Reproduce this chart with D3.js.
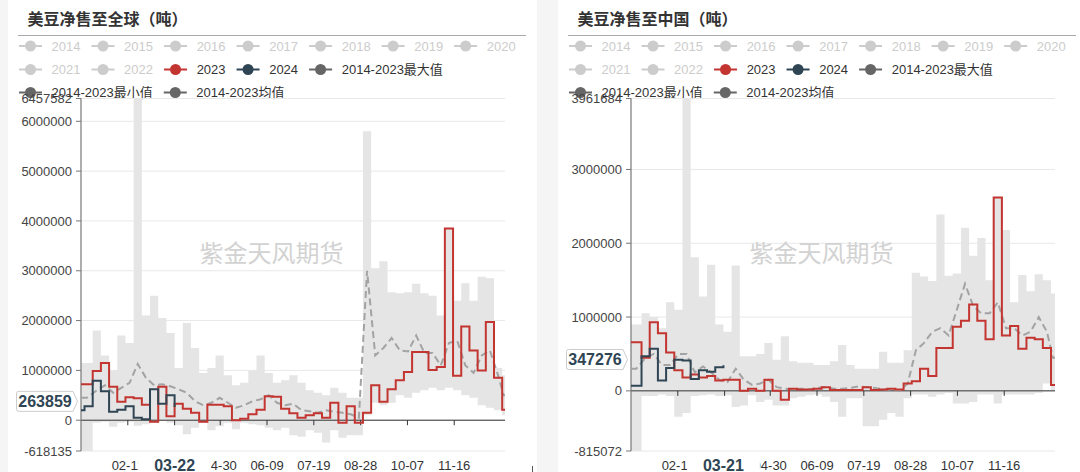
<!DOCTYPE html>
<html><head><meta charset="utf-8">
<script src="https://cdn.jsdelivr.net/npm/d3@7"></script>
<style>
html,body{margin:0;padding:0;background:#f5f5f5;}
svg{display:block;}
</style></head><body>
<svg id="c" width="1080" height="472"></svg>
<script>
// ---------------- DATA ----------------
const legendNames = ["2014","2015","2016","2017","2018","2019","2020","2021","2022","2023","2024","2014-2023最大值","2014-2023最小值","2014-2023均值"];
const legendActive = [false,false,false,false,false,false,false,false,false,true,true,true,true,true];
const xTickLabels = ["02-11","03-22","04-30","06-09","07-19","08-28","10-07","11-16"];
const yTicksGlobal = [-618135,0,1000000,2000000,3000000,4000000,5000000,6000000,6457582];
const yTicksChina = [-815072,0,1000000,2000000,3000000,3961684];

// weekly categories (first slot starts at first category of axis)
const fmt = d3.timeFormat("%m-%d");
const weeksGlobal = ["01-02"].concat(d3.range(1,52).map(k => fmt(d3.timeDay.offset(new Date(2024,0,5), 7*k))));
const weeksChina  = ["01-02"].concat(d3.range(1,52).map(k => fmt(d3.timeDay.offset(new Date(2024,0,4), 7*k))));

// 美豆净售至全球
const maxGlobal = [1150000,1800000,1300000,1000000,1700000,1550000,6457582,2100000,2500000,2050000,
  1750000,1050000,1950000,1450000,950000,1050000,1300000,900000,700000,750000,
  1000000,1300000,950000,750000,800000,900000,750000,600000,550000,500000,
  650000,550000,450000,450000,5800000,3050000,3190000,2570000,2550000,2570000,
  2740000,2550000,2500000,2100000,3850000,2400000,2750000,2400000,2880000,2850000,
  1050000,900000];
const minGlobal = [-618135,-50000,-30000,-130000,-50000,-30000,-110000,-80000,-50000,0,
  -50000,-100000,-280000,-150000,-50000,-200000,-120000,-50000,-180000,-50000,
  -80000,-100000,-150000,-200000,-150000,-300000,-330000,-200000,-250000,-450000,
  -200000,-350000,-300000,-300000,100000,350000,300000,350000,500000,450000,
  550000,600000,650000,600000,650000,600000,500000,450000,300000,250000,
  200000,100000];
const meanGlobal = [450000,600000,700000,550000,650000,750000,1130000,850000,700000,720000,
  680000,620000,550000,380000,300000,350000,450000,350000,250000,300000,
  380000,420000,500000,350000,300000,330000,200000,180000,150000,200000,
  170000,150000,120000,50000,3000000,1300000,1450000,1650000,1400000,1380000,
  1700000,1350000,1350000,1100000,1550000,1600000,1100000,950000,1300000,1400000,
  900000,500000];
const sales2023Global = [720000,990000,1150000,670000,370000,460000,440000,310000,-30000,670000,
  80000,330000,230000,150000,-30000,310000,310000,280000,0,30000,
  120000,210000,480000,470000,230000,140000,50000,100000,140000,50000,
  350000,-50000,280000,-50000,150000,700000,370000,620000,800000,970000,
  1370000,1370000,1010000,1070000,3850000,890000,1880000,1400000,1000000,1970000,
  850000,210000];
const dates2024Global = ["01-02","01-05","01-12","01-19","01-26","02-02","02-09","02-16","02-23","03-01","03-08","03-15","03-22"];
const sales2024Global = [200000,280000,790000,580000,170000,210000,280000,50000,20000,620000,330000,500000,263859];

// 美豆净售至中国
const maxChina = [900000,1050000,1000000,850000,1200000,1100000,3961684,1810000,1280000,1710000,
  900000,800000,1700000,470000,470000,500000,650000,420000,740000,400000,
  380000,380000,350000,350000,400000,620000,350000,300000,300000,300000,
  530000,380000,380000,550000,1600000,1550000,1490000,2390000,1560000,1590000,
  2210000,1830000,2070000,1500000,2620000,2180000,1200000,1570000,1350000,1580000,
  1500000,1320000];
const minChina = [-815072,-70000,-70000,-50000,-70000,-350000,-300000,-70000,-60000,-50000,
  -70000,-60000,-220000,-200000,-60000,-150000,-120000,-200000,-200000,-100000,
  -80000,-60000,-50000,-80000,-150000,-350000,-100000,-100000,-480000,-480000,
  -390000,-300000,-350000,-100000,-50000,-50000,-80000,-50000,-30000,-170000,
  -170000,-150000,-50000,-50000,-170000,-50000,-50000,-50000,-50000,-30000,
  100000,0];
const meanChina = [300000,450000,500000,350000,350000,500000,500000,250000,330000,250000,
  150000,120000,300000,150000,80000,100000,150000,50000,30000,20000,
  30000,20000,40000,50000,30000,30000,40000,60000,50000,40000,
  20000,20000,0,100000,550000,650000,800000,850000,750000,1100000,
  1450000,1150000,1050000,1050000,1200000,850000,850000,750000,800000,1000000,
  800000,450000];
const sales2023China = [660000,450000,930000,780000,520000,280000,180000,220000,180000,200000,
  140000,150000,150000,0,30000,0,150000,0,-120000,30000,
  20000,20000,30000,50000,10000,10000,10000,10000,50000,10000,
  20000,30000,20000,100000,130000,300000,200000,580000,580000,870000,
  950000,1170000,950000,700000,2620000,750000,880000,570000,720000,700000,
  580000,80000];
const dates2024China = ["01-02","01-11","01-18","01-25","02-01","02-08","02-15","02-22","02-29","03-07","03-14","03-21"];
const sales2024China = [70000,470000,570000,140000,310000,420000,410000,160000,280000,260000,320000,347276];

// ---------------- DRAW ----------------
const W = 1080, H = 472;
const FONT = '"Liberation Sans","Noto Sans CJK SC",sans-serif';
const C2023 = "#c23531", C2024 = "#2f4554", CSTAT = "#666666", COFF = "#cccccc";
const legendColors = legendNames.map((n,i) => i < 9 ? COFF : (i === 9 ? C2023 : (i === 10 ? C2024 : CSTAT)));
const legendRows = [[0,1,2,3,4,5,6],[7,8,9,10,11],[12,13]];
const legendRowY = [46, 69.5, 92.5];

const dayIndex = s => { const [m,d] = s.split("-").map(Number); return d3.timeDay.count(new Date(2024,0,1), new Date(2024,m-1,d)); };
const DAY_START = 1, DAY_END = 363.4;

const svg = d3.select("#c");
svg.append("rect").attr("width", W).attr("height", H).attr("fill", "#f5f5f5");

const panels = [
  {title:"美豆净售至全球（吨）", ox:0, px:8, pw:529, yTicks:yTicksGlobal, weeks:weeksGlobal,
   max:maxGlobal, min:minGlobal, mean:meanGlobal, s23:sales2023Global, d24:dates2024Global, s24:sales2024Global},
  {title:"美豆净售至中国（吨）", ox:550, px:558, pw:522, yTicks:yTicksChina, weeks:weeksChina,
   max:maxChina, min:minChina, mean:meanChina, s23:sales2023China, d24:dates2024China, s24:sales2024China}
];

panels.forEach(p => {
  const g = svg.append("g");
  const ox = p.ox;
  g.append("rect").attr("x", p.px).attr("y", 0).attr("width", p.pw).attr("height", H).attr("fill", "#fff");

  // title
  g.append("text").attr("x", ox + 27.5).attr("y", 25).text(p.title)
    .attr("font-family", '"Noto Sans CJK SC",sans-serif').attr("font-weight", 700)
    .attr("font-size", 16).attr("fill", "#333");
  g.append("line").attr("x1", ox + 18).attr("x2", ox + 526).attr("y1", 35.5).attr("y2", 35.5)
    .attr("stroke", "#aaa").attr("stroke-width", 1);

  // legend
  legendRows.forEach((row, ri) => {
    let lx = ox + 19;
    const cy = legendRowY[ri];
    row.forEach(i => {
      const col = legendColors[i];
      g.append("line").attr("x1", lx).attr("x2", lx + 23).attr("y1", cy).attr("y2", cy)
        .attr("stroke", col).attr("stroke-width", 2);
      g.append("circle").attr("cx", lx + 11.5).attr("cy", cy).attr("r", 5.5).attr("fill", col);
      const t = g.append("text").attr("x", lx + 32.6).attr("y", cy + 4.6).text(legendNames[i])
        .attr("font-family", FONT).attr("font-size", 13)
        .attr("fill", legendActive[i] ? "#333" : COFF);
      lx += 32.6 + t.node().getComputedTextLength() + 11;
    });
  });

  // scales
  const x = d3.scaleLinear().domain([DAY_START, DAY_END]).range([ox + 81, ox + 505]);
  const yMin = p.yTicks[0], yMax = p.yTicks[p.yTicks.length - 1];
  const y = d3.scaleLinear().domain([yMin, yMax]).range([451, 98.5]);
  const [x0, x1] = x.range();

  // grid
  g.append("g").selectAll("line").data(p.yTicks).join("line")
    .attr("x1", x0).attr("x2", x1).attr("y1", d => y(d)).attr("y2", d => y(d))
    .attr("stroke", "#e8e8e8").attr("stroke-width", 1);

  // watermark
  g.append("text").attr("x", ox + 271.5).attr("y", 262).attr("text-anchor", "middle")
    .text("紫金天风期货").attr("font-family", '"Noto Sans CJK SC",sans-serif')
    .attr("font-size", 24).attr("fill", "#d2d2d2");

  // weekly points
  const wd = p.weeks.map((s, i) => i === 0 ? DAY_START : dayIndex(s));
  const band = wd.map((d, i) => ({d, lo: p.min[i], hi: p.max[i]}));
  band.push({d: DAY_END, lo: p.min[p.min.length - 1], hi: p.max[p.max.length - 1]});
  g.append("path").datum(band)
    .attr("d", d3.area().x(d => x(d.d)).y0(d => y(d.lo)).y1(d => y(d.hi)).curve(d3.curveStepAfter))
    .attr("fill", "#e5e5e5");

  // 2024 latest point (axis pointer position)
  const s24 = p.d24.map((s, i) => ({d: i === 0 ? DAY_START : dayIndex(s), v: p.s24[i]}));
  const last = s24[s24.length - 1];
  const lastDate = p.d24[p.d24.length - 1];
  const pxp = x(last.d);

  // x axis (on zero)
  const y0 = y(0);
  g.append("line").attr("x1", x0).attr("x2", x1).attr("y1", y0).attr("y2", y0)
    .attr("stroke", "#333").attr("stroke-width", 1);
  g.append("g").selectAll("line").data(xTickLabels).join("line")
    .attr("x1", d => x(dayIndex(d))).attr("x2", d => x(dayIndex(d)))
    .attr("y1", y0).attr("y2", y0 + 5).attr("stroke", "#333");
  // tick labels (the one hidden under the pointer label is not drawn)
  g.append("g").selectAll("text").data(xTickLabels.filter(d => Math.abs(x(dayIndex(d)) - pxp) > 10)).join("text")
    .attr("x", d => x(dayIndex(d))).attr("y", 470).attr("text-anchor", "middle").text(d => d)
    .attr("font-family", FONT).attr("font-size", 13).attr("fill", "#333");

  // y axis
  g.append("line").attr("x1", x0).attr("x2", x0).attr("y1", y(yMax)).attr("y2", y(yMin))
    .attr("stroke", "#777").attr("stroke-width", 1.2);
  g.append("g").selectAll("line").data(p.yTicks).join("line")
    .attr("x1", x0 - 5).attr("x2", x0).attr("y1", d => y(d)).attr("y2", d => y(d))
    .attr("stroke", "#777");
  g.append("g").selectAll("text").data(p.yTicks).join("text")
    .attr("x", x0 - 9).attr("y", d => y(d) + 4.6).attr("text-anchor", "end").text(d => d)
    .attr("font-family", FONT).attr("font-size", 13).attr("fill", "#444");

  // mean (dashed)
  const mean = wd.map((d, i) => ({d: (d + (i < wd.length - 1 ? wd[i + 1] : DAY_END)) / 2, v: p.mean[i]}));
  mean.unshift({d: DAY_START, v: p.mean[0]});
  mean.push({d: DAY_END, v: p.mean[p.mean.length - 1]});
  g.append("path").datum(mean)
    .attr("d", d3.line().x(d => x(d.d)).y(d => y(d.v)))
    .attr("fill", "none").attr("stroke", "#a3a3a3").attr("stroke-width", 2).attr("stroke-dasharray", "7,4");

  // 2023
  const s23 = wd.map((d, i) => ({d, v: p.s23[i]}));
  s23.push({d: DAY_END, v: p.s23[p.s23.length - 1]});
  g.append("path").datum(s23)
    .attr("d", d3.line().x(d => x(d.d)).y(d => y(d.v)).curve(d3.curveStepAfter))
    .attr("fill", "none").attr("stroke", C2023).attr("stroke-width", 2);

  // 2024
  g.append("path").datum(s24)
    .attr("d", d3.line().x(d => x(d.d)).y(d => y(d.v)).curve(d3.curveStepAfter))
    .attr("fill", "none").attr("stroke", C2024).attr("stroke-width", 2);

  // axis pointer labels
  g.append("rect").attr("x", pxp - 36.5).attr("y", 456).attr("width", 73).attr("height", 16).attr("fill", "#fff");
  g.append("text").attr("x", pxp).attr("y", 470.5).attr("text-anchor", "middle").text(lastDate)
    .attr("font-family", FONT).attr("font-weight", 700).attr("font-size", 16).attr("fill", C2024);

  const yc = y(last.v) - 5.7;
  const bx0 = x0 - 64.5, bx1 = x0 - 8, tip = x0 - 3.5;
  g.append("path")
    .attr("d", `M${bx0 + 2},${yc - 10}H${bx1}L${tip},${yc}L${bx1},${yc + 10}H${bx0 + 2}Q${bx0},${yc + 10} ${bx0},${yc + 8}V${yc - 8}Q${bx0},${yc - 10} ${bx0 + 2},${yc - 10}Z`)
    .attr("fill", "#fff").attr("stroke", "#ccc").attr("stroke-width", 1);
  g.append("text").attr("x", x0 - 9.3).attr("y", yc + 5.7).attr("text-anchor", "end").text(last.v)
    .attr("font-family", FONT).attr("font-weight", 700).attr("font-size", 16).attr("fill", C2024);

  // small mark near bottom right
  g.append("line").attr("x1", ox + 532.5).attr("x2", ox + 532.5).attr("y1", 466).attr("y2", 472)
    .attr("stroke", "#555").attr("stroke-width", 1);
});
</script>
</body></html>
